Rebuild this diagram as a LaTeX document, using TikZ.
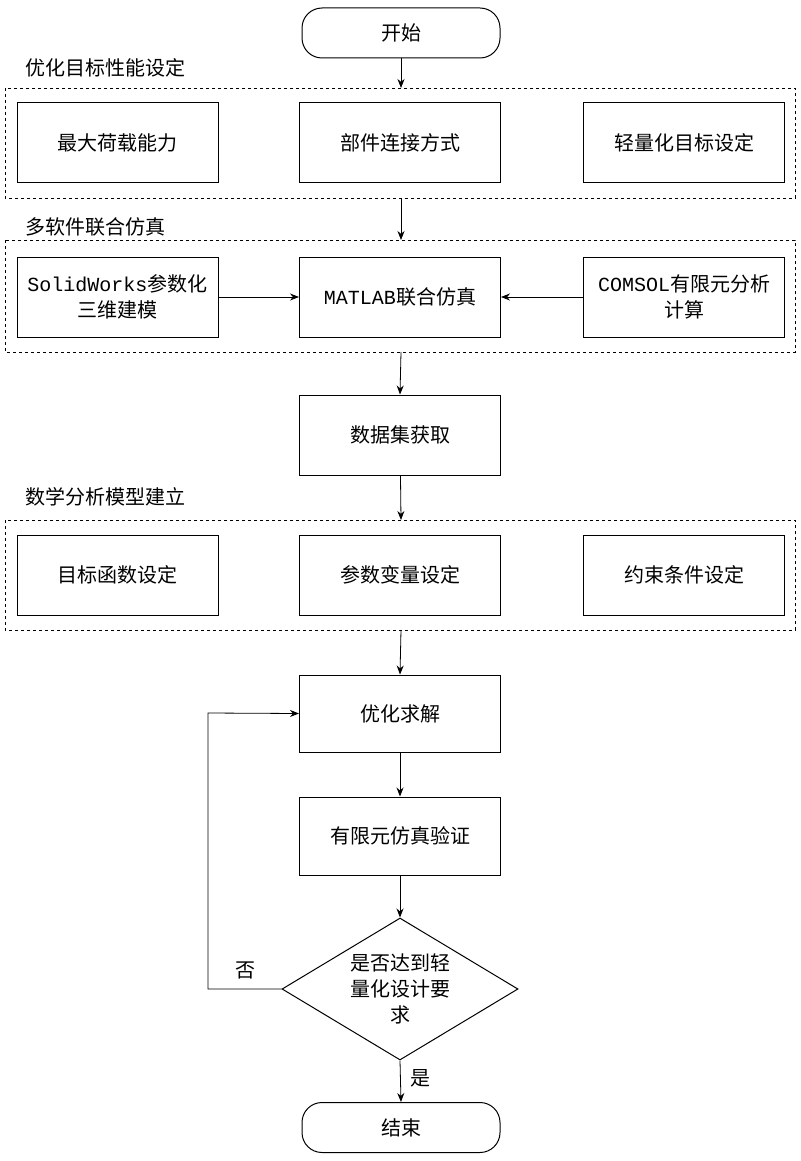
\documentclass[tikz,border=0pt]{standalone}
\usepackage{fontspec}
\setmainfont{Noto Sans CJK SC}
\newfontfamily\mono{Liberation Mono}
\usetikzlibrary{arrows.meta,shapes.geometric}
\begin{document}
\begin{tikzpicture}[x=1pt,y=-1pt,
  every node/.style={font=\fontsize{20}{26}\selectfont},
  bx/.style={draw,line width=1pt,minimum width=201pt,minimum height=80pt,align=center,inner sep=2pt},
  term/.style={draw,line width=1pt,rounded corners=20pt,minimum width=198pt,minimum height=50pt},
  dbox/.style={draw,dashed,line width=0.8pt},
  arr/.style={-{Stealth[length=9pt,width=7pt]},line width=0.8pt},
  lab/.style={anchor=west}]
\useasboundingbox (0,0) rectangle (800,1161);
\node[term] (start) at (401,33) {开始};
\node[lab] (l1) at (22,68) {优化目标性能设定};
\draw[dbox] (5,88) rectangle (795,198);
\coordinate (d1t) at (401,88); \coordinate (d1b) at (401,198);
\node[bx] (a1) at (117.5,143) {最大荷载能力};
\node[bx] (a2) at (400,143) {部件连接方式};
\node[bx] (a3) at (684,143) {轻量化目标设定};
\node[lab] (l2) at (22,227) {多软件联合仿真};
\draw[dbox] (5,240) rectangle (795,352);
\coordinate (d2t) at (401,240); \coordinate (d2b) at (401,352);
\node[bx] (b1) at (117.5,297) {{\mono SolidWorks}参数化\\三维建模};
\node[bx] (b2) at (400,297) {{\mono MATLAB}联合仿真};
\node[bx] (b3) at (684,297) {{\mono COMSOL}有限元分析\\计算};
\node[bx] (c) at (400,435) {数据集获取};
\node[lab] (l3) at (22,497) {数学分析模型建立};
\draw[dbox] (5,520) rectangle (795,630);
\coordinate (d3t) at (401,520); \coordinate (d3b) at (401,630);
\node[bx] (e1) at (117.5,575) {目标函数设定};
\node[bx] (e2) at (400,575) {参数变量设定};
\node[bx] (e3) at (684,575) {约束条件设定};
\node[bx,minimum height=77pt] (f) at (400,713.5) {优化求解};
\node[bx,minimum height=78pt] (g) at (400,836) {有限元仿真验证};
\node[draw,diamond,line width=1pt,minimum width=236pt,minimum height=142pt,aspect=1.66,inner sep=0pt,align=center] (h) at (400,989) {是否达到轻\\量化设计要\\求};
\node[term] (end) at (401,1127.5) {结束};
\draw[arr] (start) -- (d1t);
\draw[arr] (d1b) -- (d2t);
\draw[arr] (b1) -- (b2);
\draw[arr] (b3) -- (b2);
\draw[arr] (d2b) -- (c.north);
\draw[arr] (c) -- (d3t);
\draw[arr] (d3b) -- (f.north);
\draw[arr] (f) -- (g);
\draw[arr] (g.south) -- (h.north);
\draw[arr] (h.west) -- (208,989) -- (208,713) -- (f.west);
\node (no) at (245,970) {否};
\draw[arr] (h.south) -- (end.north);
\node (yes) at (420,1078) {是};
\end{tikzpicture}
\end{document}
